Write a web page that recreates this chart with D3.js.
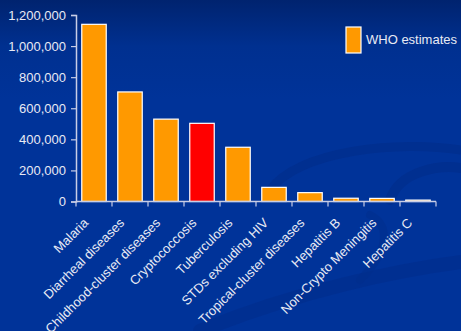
<!DOCTYPE html>
<html>
<head>
<meta charset="utf-8">
<script src="https://cdn.jsdelivr.net/npm/d3@7"></script>
<style>
  html, body { margin: 0; padding: 0; background: #003399; }
  svg { display: block; font-family: "Liberation Sans", Arial, sans-serif; }
</style>
</head>
<body>
<div id="chart"></div>
<script>
const categories = ["Malaria", "Diarrheal diseases", "Childhood-cluster diseases", "Cryptococcosis",
  "Tuberculosis", "STDs excluding HIV", "Tropical-cluster diseases", "Hepatitis B",
  "Non-Crypto Meningitis", "Hepatitis C"];
const deaths = [1140000, 705000, 530000, 503000, 349000, 91000, 57000, 21000, 20000, 9000];
const highlight = "Cryptococcosis";
const yTicks = [0, 200000, 400000, 600000, 800000, 1000000, 1200000];
const legendLabel = "WHO estimates";

const width = 461;
const height = 331;
const margin = { top: 15, left: 76, right: 25, bottom: 129.5 };

const svg = d3.select("#chart")
  .append("svg")
  .attr("width", width)
  .attr("height", height);

// background gradient + swooshes
const defs = svg.append("defs");
const grad = defs.append("linearGradient")
  .attr("id", "bg")
  .attr("x1", 0).attr("y1", 0).attr("x2", 0).attr("y2", 1);
grad.append("stop").attr("offset", "0").attr("stop-color", "#00236f");
grad.append("stop").attr("offset", "0.14").attr("stop-color", "#003090");
grad.append("stop").attr("offset", "0.3").attr("stop-color", "#003399");
grad.append("stop").attr("offset", "1").attr("stop-color", "#003399");

svg.append("rect")
  .attr("width", width)
  .attr("height", height)
  .attr("fill", "url(#bg)");

const swoosh = svg.append("g").attr("fill", "none").attr("stroke", "#002d8c").attr("stroke-linecap", "round");
swoosh.append("path")
  .attr("d", "M270,190 C300,150 400,140 461,150")
  .attr("stroke-width", 9).attr("opacity", 0.7);
swoosh.append("path")
  .attr("d", "M390,200 C400,170 440,165 461,168")
  .attr("stroke-width", 10).attr("opacity", 0.7);
swoosh.append("path")
  .attr("d", "M200,331 C300,290 400,270 461,262")
  .attr("stroke-width", 14).attr("opacity", 0.6);
swoosh.append("path")
  .attr("d", "M360,280 C390,250 390,225 370,215")
  .attr("stroke-width", 8).attr("opacity", 0.5);

const x = d3.scaleBand()
  .domain(categories)
  .range([margin.left, width - margin.right])
  .paddingInner(0.32)
  .paddingOuter(0.16);

const y = d3.scaleLinear()
  .domain([0, 1200000])
  .range([height - margin.bottom, margin.top]);

const axisColor = "#c8cde6";
const textColor = "#e8eaf4";

// bars
svg.append("g")
  .selectAll("rect")
  .data(categories)
  .join("rect")
  .attr("x", d => x(d))
  .attr("y", (d, i) => y(deaths[i]))
  .attr("width", x.bandwidth())
  .attr("height", (d, i) => y(0) - y(deaths[i]))
  .attr("fill", d => d === highlight ? "#ff0000" : "#ff9900")
  .attr("stroke", "#ffffff")
  .attr("stroke-width", 1.2);

// y axis
const yAxis = svg.append("g")
  .attr("transform", `translate(${margin.left},0)`)
  .call(d3.axisLeft(y).tickValues(yTicks).tickSize(5).tickPadding(5)
    .tickFormat(d3.format(",")));
yAxis.select(".domain").attr("stroke", axisColor).attr("stroke-width", 1.5);
yAxis.selectAll(".tick line").attr("stroke", axisColor).attr("stroke-width", 1.2);
yAxis.selectAll(".tick text")
  .attr("fill", textColor)
  .style("font-size", "13px")
  .style("font-family", "'Liberation Sans', Arial, sans-serif");

// x axis
const step = x.step();
const xAxis = svg.append("g")
  .attr("transform", `translate(0,${y(0)})`);
xAxis.append("line")
  .attr("x1", margin.left).attr("x2", width - margin.right)
  .attr("stroke", axisColor).attr("stroke-width", 1.5);
xAxis.selectAll(".xtick")
  .data(d3.range(categories.length + 1))
  .join("line")
  .attr("x1", i => margin.left + i * step)
  .attr("x2", i => margin.left + i * step)
  .attr("y1", 0).attr("y2", 5)
  .attr("stroke", axisColor).attr("stroke-width", 1.2);

xAxis.selectAll(".xlabel")
  .data(categories)
  .join("text")
  .attr("transform", d => `translate(${x(d) + x.bandwidth() / 2 - 8},${19}) rotate(-45)`)
  .attr("text-anchor", "end")
  .attr("dy", "0.35em")
  .attr("fill", textColor)
  .style("font-size", "13px")
  .text(d => d);

// legend
const legend = svg.append("g").attr("transform", "translate(346,27)");
legend.append("rect")
  .attr("width", 15).attr("height", 26)
  .attr("fill", "#ff9900")
  .attr("stroke", "#ffffff").attr("stroke-width", 1.2);
legend.append("text")
  .attr("x", 20).attr("y", 17)
  .attr("fill", textColor)
  .style("font-size", "13px")
  .text(legendLabel);
</script>
</body>
</html>
